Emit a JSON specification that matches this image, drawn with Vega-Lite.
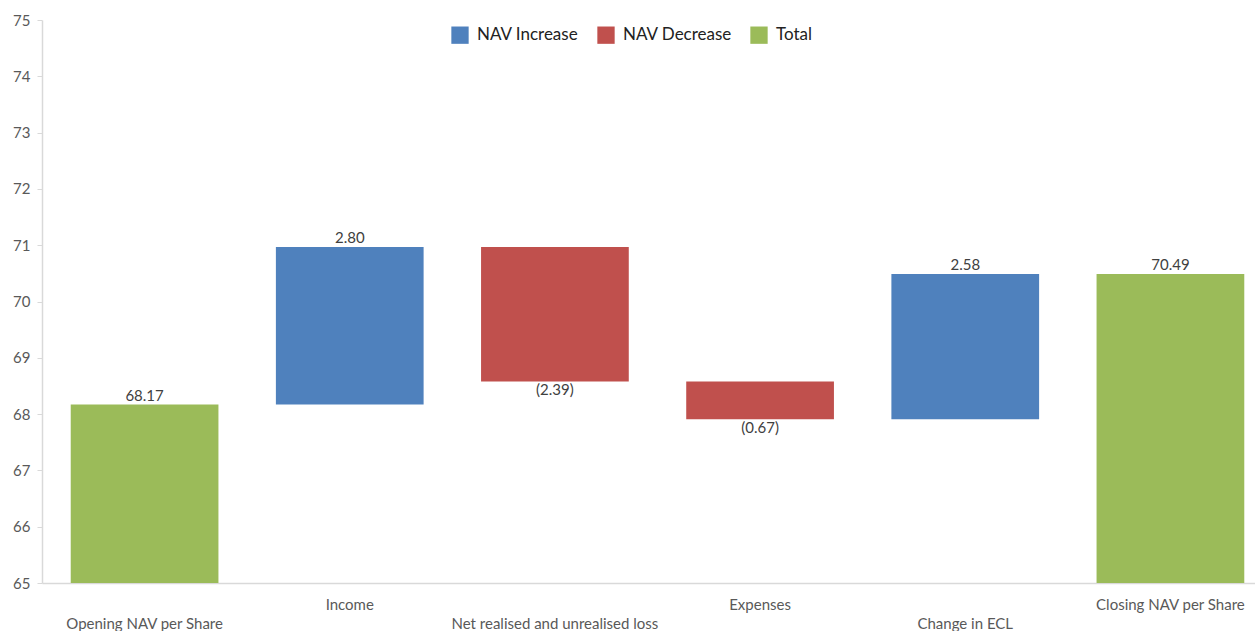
{
  "$schema": "https://vega.github.io/schema/vega-lite/v6.json",
  "width": 1231,
  "height": 563,
  "autosize": {"type": "none"},
  "padding": {"left": 42, "top": 20, "right": 0, "bottom": 48},
  "background": "white",
  "config": {
    "view": {"stroke": null},
    "font": "Lato"
  },
  "data": {
    "values": [
      {"category": "Opening NAV per Share", "low": 65, "high": 68.17, "type": "Total", "label": "68.17"},
      {"category": "Income", "low": 68.17, "high": 70.97, "type": "NAV Increase", "label": "2.80"},
      {"category": "Net realised and unrealised loss", "low": 68.58, "high": 70.97, "type": "NAV Decrease", "label": "(2.39)"},
      {"category": "Expenses", "low": 67.91, "high": 68.58, "type": "NAV Decrease", "label": "(0.67)"},
      {"category": "Change in ECL", "low": 67.91, "high": 70.49, "type": "NAV Increase", "label": "2.58"},
      {"category": "Closing NAV per Share", "low": 65, "high": 70.49, "type": "Total", "label": "70.49"}
    ]
  },
  "encoding": {
    "x": {
      "field": "category",
      "type": "nominal",
      "sort": null,
      "scale": {"paddingInner": 0.28, "paddingOuter": 0.14},
      "axis": {
        "title": null,
        "labelAngle": 0,
        "ticks": false,
        "domainColor": "#d9d9d9",
        "domainWidth": 1.5,
        "labelColor": "#595959",
        "labelFontSize": 15,
        "labelPadding": 14,
        "labelLineHeight": 19,
        "labelBaseline": "top",
        "labelOverlap": false,
        "labelLimit": 400,
        "labelExpr": "indexof(['Opening NAV per Share','Net realised and unrealised loss','Change in ECL'], datum.value) >= 0 ? ['', datum.value] : datum.value"
      }
    }
  },
  "layer": [
    {
      "mark": {"type": "bar"},
      "encoding": {
        "y": {
          "field": "low",
          "type": "quantitative",
          "scale": {"domain": [65, 75], "nice": false, "zero": false},
          "axis": {
            "title": null,
            "grid": false,
            "values": [65, 66, 67, 68, 69, 70, 71, 72, 73, 74, 75],
            "format": "d",
            "labelOverlap": false,
            "domainColor": "#d9d9d9",
            "domainWidth": 1.5,
            "tickColor": "#d9d9d9",
            "tickSize": 5,
            "labelColor": "#595959",
            "labelFontSize": 15,
            "labelPadding": 7
          }
        },
        "y2": {"field": "high"},
        "color": {
          "field": "type",
          "type": "nominal",
          "scale": {
            "domain": ["NAV Increase", "NAV Decrease", "Total"],
            "range": ["#4f81bd", "#c0504d", "#9bbb59"]
          },
          "legend": {
            "title": null,
            "orient": "none",
            "direction": "horizontal",
            "legendX": 409,
            "legendY": 6,
            "symbolType": "square",
            "symbolSize": 300,
            "symbolStrokeWidth": 0,
            "symbolOpacity": 1,
            "labelFontSize": 17,
            "labelColor": "#222222",
            "columnPadding": 18,
            "labelOffset": 8
          }
        }
      }
    },
    {
      "transform": [{"filter": "datum.type != 'NAV Decrease'"}],
      "mark": {"type": "text", "baseline": "bottom", "dy": -1, "fontSize": 15, "color": "#404040"},
      "encoding": {
        "y": {"field": "high", "type": "quantitative"},
        "text": {"field": "label"}
      }
    },
    {
      "transform": [{"filter": "datum.type == 'NAV Decrease'"}],
      "mark": {"type": "text", "baseline": "top", "dy": 2, "fontSize": 15, "color": "#404040"},
      "encoding": {
        "y": {"field": "low", "type": "quantitative"},
        "text": {"field": "label"}
      }
    }
  ]
}
